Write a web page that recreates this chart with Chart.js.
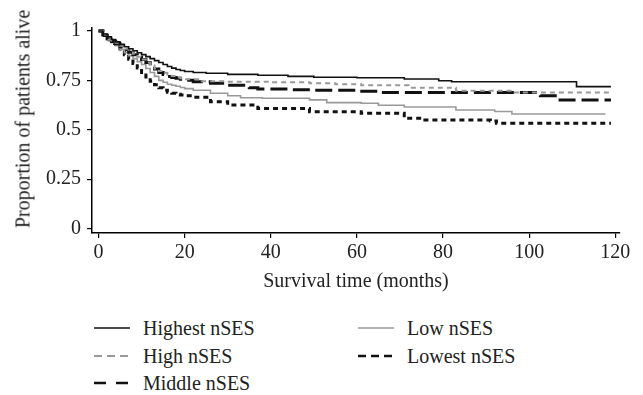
<!DOCTYPE html>
<html>
<head>
<meta charset="utf-8">
<script src="https://cdn.jsdelivr.net/npm/chart.js@4.4.1/dist/chart.umd.min.js"></script>
<style>
  html, body { margin: 0; padding: 0; background: #fff; }
  body { width: 643px; height: 395px; position: relative; overflow: hidden;
         font-family: 'Liberation Serif', 'DejaVu Serif', serif; color: #222; }
  #chart-wrap { position: absolute; left: 0; top: 0; width: 643px; height: 300px; }
  #y-title { position: absolute; left: 23px; top: 119px; font-size: 20px; white-space: nowrap;
             transform: translate(-50%, -50%) rotate(-90deg); }
  .legend-item { position: absolute; height: 28px; line-height: 28px; font-size: 20px; white-space: nowrap; }
  .legend-item svg { position: absolute; left: 0; top: 0; }
  .legend-item span { position: absolute; top: 0; }
</style>
</head>
<body>
<div id="chart-wrap"><canvas id="km-chart" width="643" height="300"></canvas></div>
<div id="y-title">Proportion of patients alive</div>
<div id="legend"></div>

<script>
// Kaplan-Meier curves (months, proportion alive)
const xTicks = [0, 20, 40, 60, 80, 100, 120];
const yTicks = [0, 0.25, 0.5, 0.75, 1];

// first 20 months read month by month, then at each visible step
const highestTime = [0, 1, 2, 3, 4, 5, 6, 7, 8, 9, 10, 11, 12, 13, 14, 15, 16, 17, 18, 19, 20, 22, 25, 30, 37, 44, 50, 60, 71, 79, 82, 111, 119];
const highestSurv = [1, 0.985, 0.97, 0.957, 0.945, 0.932, 0.92, 0.91, 0.9, 0.89, 0.88, 0.87, 0.86, 0.85, 0.84, 0.83, 0.82, 0.812, 0.805, 0.8, 0.795, 0.79, 0.786, 0.78, 0.776, 0.77, 0.766, 0.763, 0.757, 0.748, 0.743, 0.718, 0.718];

const highTime = [0, 1, 2, 3, 4, 5, 6, 7, 8, 9, 10, 11, 12, 13, 14, 15, 16, 17, 18, 19, 20, 24, 30, 40, 49, 55, 61, 72, 83, 96, 119];
const highSurv = [1, 0.982, 0.965, 0.952, 0.94, 0.925, 0.91, 0.897, 0.885, 0.87, 0.855, 0.84, 0.825, 0.81, 0.797, 0.788, 0.78, 0.772, 0.765, 0.76, 0.755, 0.745, 0.743, 0.74, 0.735, 0.73, 0.725, 0.713, 0.697, 0.688, 0.688];

const middleTime = [0, 1, 2, 3, 4, 5, 6, 7, 8, 9, 10, 11, 12, 13, 14, 15, 16, 17, 18, 19, 20, 22, 26, 30, 35, 37, 45, 50, 60, 65, 102.6, 106.5, 119];
const middleSurv = [1, 0.98, 0.96, 0.947, 0.935, 0.92, 0.905, 0.892, 0.88, 0.867, 0.855, 0.84, 0.825, 0.807, 0.79, 0.78, 0.77, 0.765, 0.76, 0.755, 0.75, 0.743, 0.735, 0.725, 0.712, 0.706, 0.703, 0.7, 0.695, 0.688, 0.672, 0.651, 0.651];

const lowTime = [0, 1, 2, 3, 4, 5, 6, 7, 8, 9, 10, 11, 12, 13, 14, 15, 16, 17, 18, 19, 20, 22, 26, 30, 33, 38, 49, 53, 61, 65, 71, 83, 92, 96, 117.7];
const lowSurv = [1, 0.978, 0.955, 0.94, 0.925, 0.907, 0.89, 0.875, 0.86, 0.845, 0.83, 0.81, 0.79, 0.77, 0.75, 0.74, 0.73, 0.725, 0.72, 0.714, 0.708, 0.7, 0.685, 0.672, 0.662, 0.659, 0.651, 0.637, 0.634, 0.624, 0.615, 0.6, 0.592, 0.58, 0.58];

const lowestTime = [0, 1, 2, 3, 4, 5, 6, 7, 8, 9, 10, 11, 12, 13, 14, 15, 16, 17, 18, 19, 20, 22, 26, 30, 37, 49, 61, 71, 75, 91, 92.4, 119];
const lowestSurv = [1, 0.977, 0.955, 0.937, 0.92, 0.9, 0.88, 0.857, 0.835, 0.812, 0.79, 0.767, 0.745, 0.728, 0.712, 0.7, 0.69, 0.685, 0.68, 0.676, 0.672, 0.665, 0.642, 0.625, 0.608, 0.591, 0.583, 0.558, 0.549, 0.544, 0.533, 0.533];

const series = [
  { label: 'Highest nSES', time: highestTime, surv: highestSurv, color: '#111', width: 1.6, dash: [],      col: 0, row: 0, sample: [] },
  { label: 'High nSES',    time: highTime,    surv: highSurv,    color: '#999', width: 2,   dash: [5, 4],  col: 0, row: 1, sample: [8, 5] },
  { label: 'Middle nSES',  time: middleTime,  surv: middleSurv,  color: '#111', width: 3,   dash: [17, 6], col: 0, row: 2, sample: [12, 10] },
  { label: 'Low nSES',     time: lowTime,     surv: lowSurv,     color: '#999', width: 1.6, dash: [],      col: 1, row: 0, sample: [] },
  { label: 'Lowest nSES',  time: lowestTime,  surv: lowestSurv,  color: '#111', width: 3,   dash: [5, 4],  col: 1, row: 1, sample: [8, 5] },
];

const font = { family: "'Liberation Serif', serif", size: 20 };

function buildDataset(s) {
  return {
    label: s.label,
    data: s.time.map((t, i) => ({ x: t, y: s.surv[i] })),
    borderColor: s.color,
    borderWidth: s.width,
    borderDash: s.dash,
    borderCapStyle: 'butt',
    stepped: 'before',   // hold the value, then drop at the event time
    pointRadius: 0,
    fill: false,
  };
}

function axisStyle() {
  return {
    grid: { display: true, drawOnChartArea: false, drawTicks: true, tickLength: 5, color: '#000', lineWidth: 1.2 },
    border: { display: true, color: '#000', width: 1.5 },
  };
}

new Chart(document.getElementById('km-chart').getContext('2d'), {
  type: 'line',
  data: { datasets: series.map(buildDataset) },
  options: {
    responsive: false,
    animation: false,
    devicePixelRatio: 1,
    layout: { padding: { top: 28, right: 23, left: 0, bottom: 0 } },
    plugins: { legend: { display: false }, tooltip: { enabled: false } },
    scales: {
      x: {
        type: 'linear',
        min: -1.51,
        max: 121.1,
        afterBuildTicks: s => { s.ticks = xTicks.map(v => ({ value: v })); },
        afterFit: s => { s.height = 67; },
        ticks: { font, color: '#222', padding: 3, maxRotation: 0, callback: v => String(v) },
        title: { display: true, text: 'Survival time (months)', font, color: '#222', padding: { top: 0, bottom: 6 } },
        ...axisStyle(),
      },
      y: {
        type: 'linear',
        min: -0.0228,
        max: 1.015,
        afterBuildTicks: s => { s.ticks = yTicks.map(v => ({ value: v })); },
        afterFit: s => { s.width = 92; },
        ticks: { font, color: '#222', padding: 6, callback: v => String(v) },
        ...axisStyle(),
      },
    },
  },
});

// Legend: two columns, filled top to bottom
const legendCols = [{ line: 94, text: 143 }, { line: 358, text: 407 }];
const legendRowTop = 314;
const legendRowStep = 27.7;

function renderLegend() {
  const box = document.getElementById('legend');
  series.forEach(s => {
    const col = legendCols[s.col];
    const item = document.createElement('div');
    item.className = 'legend-item';
    item.style.left = col.line + 'px';
    item.style.top = (legendRowTop + s.row * legendRowStep) + 'px';
    const w = 36;
    item.innerHTML = `
      <svg width="${w}" height="28"><line x1="0" y1="14" x2="${w}" y2="14" stroke="${s.color}"
        stroke-width="${Math.min(s.width, 2.5)}" stroke-dasharray="${s.sample.join(' ') || 'none'}"/></svg>
      <span style="left:${col.text - col.line}px">${s.label}</span>`;
    box.appendChild(item);
  });
}

renderLegend();
</script>
</body>
</html>
